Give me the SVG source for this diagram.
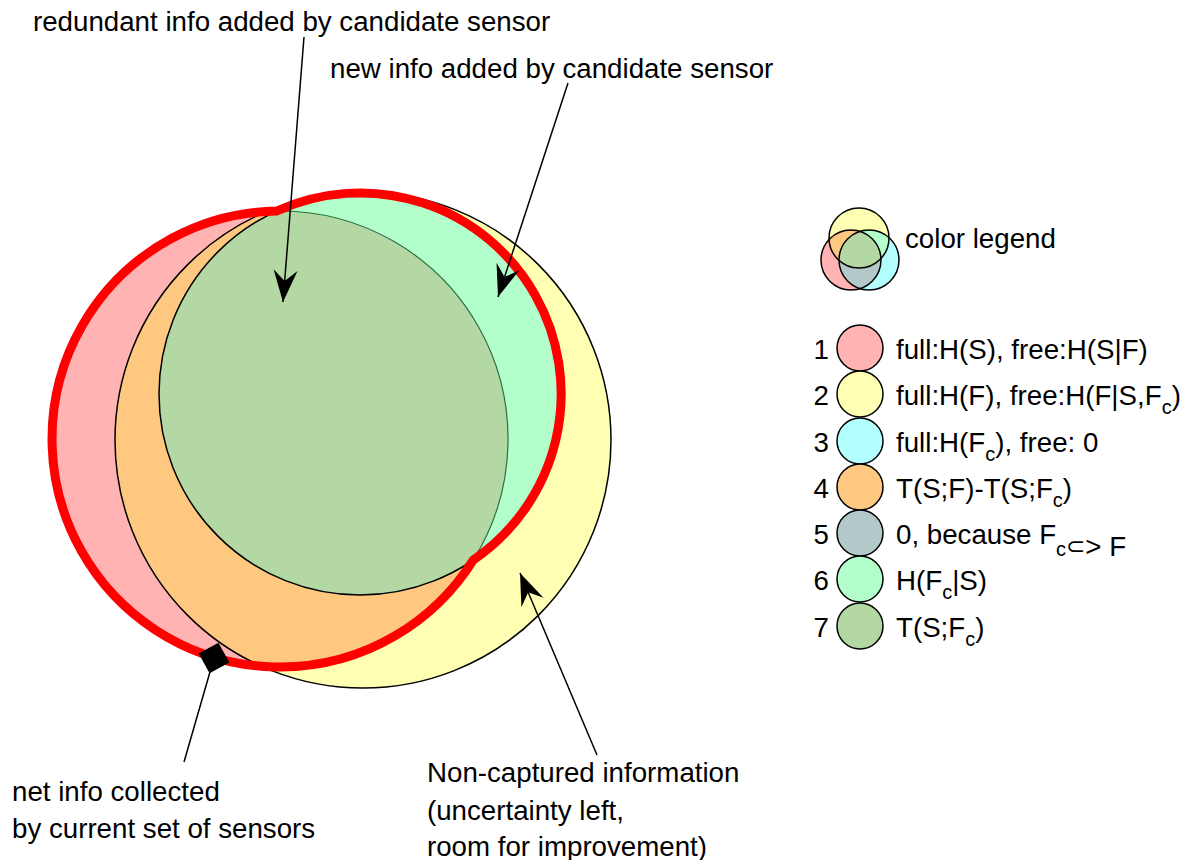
<svg xmlns="http://www.w3.org/2000/svg" width="1184" height="860" viewBox="0 0 1184 860">
<style>
text{font-family:"Liberation Sans",Arial,"DejaVu Sans",sans-serif;font-size:27.7px;fill:#000}
.sub{font-size:20px}
.sym{font-size:23px}
.edge{fill:none;stroke:#000;stroke-width:1.5}
.conn{fill:none;stroke:#000;stroke-width:1.5}
.pink{fill:#FFB3B3}.yellow{fill:#FFFFB3}.cyan{fill:#B3FFFF}.orange{fill:#FFC880}.grey{fill:#B3C8C8}.mint{fill:#B3FFCC}.dgreen{fill:#B3D8A3}
.lc{stroke:#000;stroke-width:1.5}
</style>
<defs>
<clipPath id="clipF"><circle cx="363" cy="440" r="248"/></clipPath>
<clipPath id="clipS"><circle cx="280" cy="439" r="228"/></clipPath>
<clipPath id="clipLY"><circle cx="859" cy="238" r="30"/></clipPath>
<clipPath id="clipLC"><circle cx="869" cy="260" r="30"/></clipPath>
<marker id="arrow" markerUnits="userSpaceOnUse" viewBox="-34 -14 36 28" refX="0" refY="0" markerWidth="36" markerHeight="28" orient="auto">
<path d="M0,0 L-32,-12 L-21,0 L-32,12 Z" fill="#000"/>
</marker>
<marker id="diamond" markerUnits="userSpaceOnUse" viewBox="-17 -17 34 34" refX="0" refY="0" markerWidth="34" markerHeight="34" orient="auto">
<path d="M-16,0 L0,-16 L16,0 L0,16 Z" fill="#000"/>
</marker>
</defs>
<rect width="1184" height="860" fill="#fff"/>

<g id="set-F">
<circle class="yellow" cx="363" cy="440" r="248"/>
</g>
<g id="set-S">
<circle class="pink" cx="280" cy="439" r="228"/>
<circle class="orange" cx="280" cy="439" r="228" clip-path="url(#clipF)"/>
</g>
<g id="set-Fc">
<circle class="mint" cx="360" cy="394" r="201"/>
<circle class="dgreen" cx="360" cy="394" r="201" clip-path="url(#clipS)"/>
</g>
<g id="outlines">
<circle class="edge" cx="363" cy="440" r="248"/>
<circle class="edge" cx="360" cy="394" r="201"/>
<path d="M276.8,211 A228,228 0 0 1 473.2,560.1" fill="none" stroke="#2f6f45" stroke-width="1.2"/>
</g>
<g id="net-info-ring">
<path d="M276.8,211 A228,228 0 1 0 473.2,560.1 A201,201 0 0 0 276.8,211 Z" fill="none" stroke="#FF0000" stroke-width="9"/>
</g>

<g id="connectors">
<line class="conn" x1="304" y1="37" x2="283" y2="302" marker-end="url(#arrow)"/>
<line class="conn" x1="568" y1="83" x2="498" y2="297" marker-end="url(#arrow)"/>
<line class="conn" x1="597" y1="755" x2="520" y2="573" marker-end="url(#arrow)"/>
<line class="conn" x1="214" y1="658" x2="184" y2="762" marker-start="url(#diamond)"/>
</g>

<g id="labels">
<text x="33" y="31">redundant info added by candidate sensor</text>
<text x="330" y="78">new info added by candidate sensor</text>
<text x="12" y="801">net info collected</text>
<text x="12" y="838">by current set of sensors</text>
<text x="427" y="782">Non-captured information</text>
<text x="427" y="820">(uncertainty left,</text>
<text x="427" y="856">room for improvement)</text>
</g>

<g id="legend-venn">
<circle class="yellow" cx="859" cy="238" r="30"/>
<circle class="pink" cx="851" cy="260" r="30"/>
<circle class="cyan" cx="869" cy="260" r="30"/>
<circle class="orange" cx="851" cy="260" r="30" clip-path="url(#clipLY)"/>
<circle class="mint" cx="869" cy="260" r="30" clip-path="url(#clipLY)"/>
<circle class="grey" cx="851" cy="260" r="30" clip-path="url(#clipLC)"/>
<g clip-path="url(#clipLC)"><circle class="dgreen" cx="851" cy="260" r="30" clip-path="url(#clipLY)"/></g>
<circle class="edge" cx="859" cy="238" r="30"/>
<circle class="edge" cx="851" cy="260" r="30"/>
<circle class="edge" cx="869" cy="260" r="30"/>
<text x="905" y="248">color legend</text>
</g>

<g id="legend-1">
<text x="829" y="359" text-anchor="end">1</text>
<circle class="pink lc" cx="860" cy="348" r="23"/>
<text x="896" y="359">full:H(S), free:H(S|F)</text>
</g>
<g id="legend-2">
<text x="829" y="405" text-anchor="end">2</text>
<circle class="yellow lc" cx="860" cy="394" r="23"/>
<text x="896" y="405">full:H(F), free:H(F|S,F<tspan class="sub" dy="9">c</tspan><tspan dy="-9">)</tspan></text>
</g>
<g id="legend-3">
<text x="829" y="452" text-anchor="end">3</text>
<circle class="cyan lc" cx="860" cy="441" r="23"/>
<text x="896" y="452">full:H(F<tspan class="sub" dy="9">c</tspan><tspan dy="-9">), free: 0</tspan></text>
</g>
<g id="legend-4">
<text x="829" y="498" text-anchor="end">4</text>
<circle class="orange lc" cx="860" cy="487" r="23"/>
<text x="896" y="498">T(S;F)-T(S;F<tspan class="sub" dy="9">c</tspan><tspan dy="-9">)</tspan></text>
</g>
<g id="legend-5">
<text x="829" y="544" text-anchor="end">5</text>
<circle class="grey lc" cx="860" cy="533" r="23"/>
<text x="896" y="544">0, because F<tspan class="sub" dy="12">c</tspan><tspan class="sym" dy="-2">⊂</tspan><tspan dy="2">&gt; F</tspan></text>
</g>
<g id="legend-6">
<text x="829" y="590" text-anchor="end">6</text>
<circle class="mint lc" cx="860" cy="579" r="23"/>
<text x="896" y="590">H(F<tspan class="sub" dy="9">c</tspan><tspan dy="-9">|S)</tspan></text>
</g>
<g id="legend-7">
<text x="829" y="637" text-anchor="end">7</text>
<circle class="dgreen lc" cx="860" cy="626" r="23"/>
<text x="896" y="637">T(S;F<tspan class="sub" dy="9">c</tspan><tspan dy="-9">)</tspan></text>
</g>
</svg>
